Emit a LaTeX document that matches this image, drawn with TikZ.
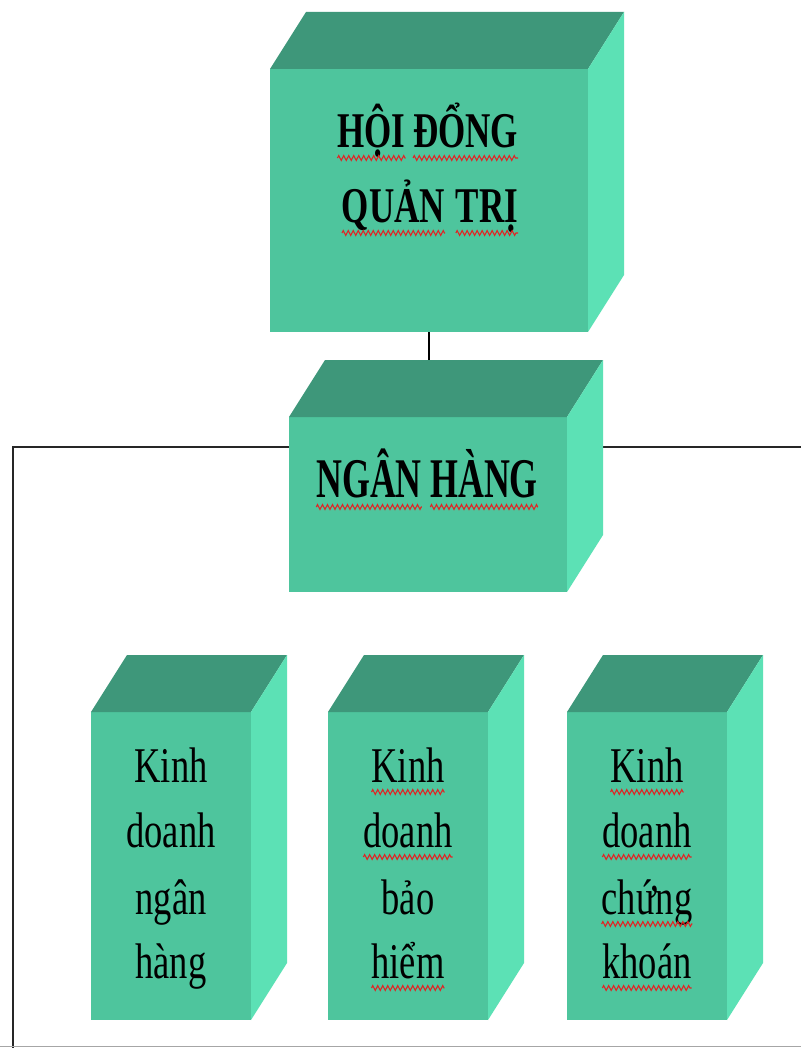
\documentclass[tikz,border=0pt]{standalone}
\usepackage{fontspec}
\setmainfont{Liberation Serif}
\usetikzlibrary{calc,decorations.pathmorphing}
\pgfdeclarelayer{bg}
\pgfsetlayers{bg,main}
\definecolor{facefront}{HTML}{4EC59D}
\definecolor{facetop}{HTML}{3E977A}
\definecolor{faceside}{HTML}{5CE1B5}
\definecolor{squig}{HTML}{E02424}
\tikzset{
  front/.style={fill=facefront, draw=none, inner sep=0pt, outer sep=0pt},
  word/.style={inner sep=0pt, outer sep=0pt, anchor=base, text=black},
  bigword/.style={word, font=\fontsize{56}{64}\selectfont\bfseries},
  midword/.style={word, font=\fontsize{50}{60}\selectfont\bfseries},
  smallword/.style={word, font=\fontsize{50}{60}\selectfont},
  wavy/.style={draw=squig, line width=1.1pt, decorate,
    decoration={zigzag, segment length=5pt, amplitude=2.4pt}},
  frameline/.style={draw=black!85, line width=2.6pt},
  link/.style={draw=black, line width=1.6pt},
}
% top and right faces of a block whose front face is node #1
\newcommand{\boxsides}[1]{%
  \fill[facetop] (#1.north west) -- ++(36,-57) -- ($(#1.north east)+(36,-57)$) -- (#1.north east) -- cycle;
  \fill[faceside] (#1.north east) -- ++(36,-57) -- ($(#1.south east)+(36,-57)$) -- (#1.south east) -- cycle;}
% red spell-check wave under a word node
\newcommand{\squig}[1]{\path[wavy] ($(#1.base west)+(0,10)$) -- ($(#1.base east)+(0,10)$);}
\begin{document}
\begin{tikzpicture}[x=1pt,y=-1pt]
\useasboundingbox (0,0) rectangle (801,1048);

% blocks (front faces)
\node[front, minimum width=318pt, minimum height=263pt] (hdqt) at (429,200.5) {};
\node[front, minimum width=278pt, minimum height=175pt] (nh) at (428,504.5) {};
\node[front, minimum width=160pt, minimum height=308pt] (kdnh) at (171,866) {};
\node[front, minimum width=160pt, minimum height=308pt] (kdbh) at (408,866) {};
\node[front, minimum width=160pt, minimum height=308pt] (kdck) at (647,866) {};
\boxsides{hdqt}
\boxsides{nh}
\boxsides{kdnh}
\boxsides{kdbh}
\boxsides{kdck}

% frame and link behind the blocks
\coordinate (fl) at (13,447);
\coordinate (fb) at (13,1048);
\coordinate (fr) at (801,447);
\begin{pgfonlayer}{bg}
  \fill[white] (0,0) rectangle (801,1048);
  \draw[link] (hdqt.south) -- (hdqt.south |- nh.north);
  \draw[frameline] (nh.west |- fl) -- (fl) -- (fb);
  \draw[frameline] (nh.east |- fr) -- (fr);
  \draw[draw=black!35, line width=1.2pt] (0,1046.5) -- (801,1046.5);
\end{pgfonlayer}

% labels
\node[midword] (t1) at (371.5,148) {\scalebox{0.70}[1]{HỘI}};
\node[midword] (t2) at (465.5,148) {\scalebox{0.70}[1]{ĐỔNG}};
\node[midword] (t3) at (393.5,223) {\scalebox{0.70}[1]{QUẢN}};
\node[midword] (t4) at (487,223) {\scalebox{0.70}[1]{TRỊ}};

\node[bigword] (n1) at (369,497) {\scalebox{0.64}[1]{NGÂN}};
\node[bigword] (n2) at (484,497) {\scalebox{0.64}[1]{HÀNG}};

\node[smallword] (a1) at (171,782) {\scalebox{0.73}[1]{Kinh}};
\node[smallword] (a2) at (171,847) {\scalebox{0.73}[1]{doanh}};
\node[smallword] (a3) at (171,914) {\scalebox{0.73}[1]{ngân}};
\node[smallword] (a4) at (171,978) {\scalebox{0.73}[1]{hàng}};

\node[smallword] (b1) at (408,782) {\scalebox{0.73}[1]{Kinh}};
\node[smallword] (b2) at (408,847) {\scalebox{0.73}[1]{doanh}};
\node[smallword] (b3) at (408,914) {\scalebox{0.73}[1]{bảo}};
\node[smallword] (b4) at (408,978) {\scalebox{0.73}[1]{hiểm}};

\node[smallword] (c1) at (647,782) {\scalebox{0.73}[1]{Kinh}};
\node[smallword] (c2) at (647,847) {\scalebox{0.73}[1]{doanh}};
\node[smallword] (c3) at (647,914) {\scalebox{0.73}[1]{chứng}};
\node[smallword] (c4) at (647,978) {\scalebox{0.73}[1]{khoán}};

% spell-check waves
\squig{t1}\squig{t2}\squig{t3}\squig{t4}
\squig{n1}\squig{n2}
\squig{b1}\squig{b2}\squig{b4}
\squig{c1}\squig{c2}\squig{c3}\squig{c4}
\end{tikzpicture}
\end{document}
